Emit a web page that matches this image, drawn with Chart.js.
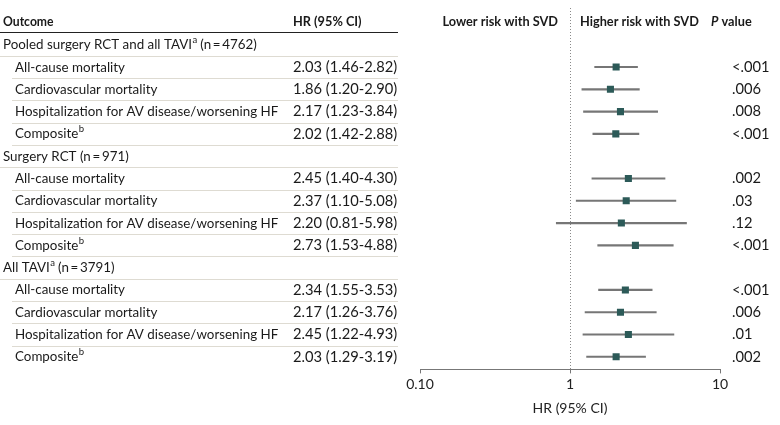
<!DOCTYPE html>
<html lang="en">
<head>
    <meta charset="UTF-8">
    <title>SVD hazard ratios</title>
    <script src="https://cdn.jsdelivr.net/npm/chart.js"></script>
    <style>
        body {
            margin: 0;
            background: #ffffff;
        }
        .wrap {
            width: 780px;
            height: 425px;
        }
    </style>
</head>
<body>
    <div class="wrap">
        <canvas id="forest" width="780" height="425"></canvas>
    </div>

    <script>
        // rows top to bottom; {a}/{b} mark superscripts
        const outcomes = [
            'Pooled surgery RCT and all TAVI{a} (n\u2009=\u20094762)',
            'All-cause mortality',
            'Cardiovascular mortality',
            'Hospitalization for AV disease/worsening HF',
            'Composite{b}',
            'Surgery RCT (n\u2009=\u2009971)',
            'All-cause mortality',
            'Cardiovascular mortality',
            'Hospitalization for AV disease/worsening HF',
            'Composite{b}',
            'All TAVI{a} (n\u2009=\u20093791)',
            'All-cause mortality',
            'Cardiovascular mortality',
            'Hospitalization for AV disease/worsening HF',
            'Composite{b}'
        ];
        const hr    = [null, 2.03, 1.86, 2.17, 2.02, null, 2.45, 2.37, 2.20, 2.73, null, 2.34, 2.17, 2.45, 2.03];
        const ciLow = [null, 1.46, 1.20, 1.23, 1.42, null, 1.40, 1.10, 0.81, 1.53, null, 1.55, 1.26, 1.22, 1.29];
        const ciHigh = [null, 2.82, 2.90, 3.84, 2.88, null, 4.30, 5.08, 5.98, 4.88, null, 3.53, 3.76, 4.93, 3.19];
        const pValues = ['', '<.001', '.006', '.008', '<.001', '', '.002', '.03', '.12', '<.001', '', '<.001', '.006', '.01', '.002'];

        const tickValues = [0.1, 1, 10];
        const tickLabels = ['0.10', '1', '10'];

        const FONT = 'Lato';
        const TEXT = '#1a1a1a';

        // fillText squeezed horizontally (source font is a condensed face)
        function squeezeText(ctx, text, x, y, squeeze) {
            ctx.save();
            ctx.translate(x, y);
            ctx.scale(squeeze, 1);
            ctx.fillText(text, 0, 0);
            ctx.restore();
        }

        function drawRich(ctx, text, x, y, size, squeeze) {
            const parts = text.split(/\{(\w)\}/);
            ctx.save();
            ctx.translate(x, y);
            ctx.scale(squeeze, 1);
            let cx = 0;
            parts.forEach((p, i) => {
                if (!p) return;
                if (i % 2 === 1) {
                    ctx.font = `${Math.round(size * 0.7)}px ${FONT}`;
                    ctx.fillText(p, cx + 0.5, -size * 0.36);
                } else {
                    ctx.font = `${size}px ${FONT}`;
                    ctx.fillText(p, cx, 0);
                }
                cx += ctx.measureText(p).width;
            });
            ctx.restore();
        }

        const tablePlugin = {
            id: 'table',
            beforeDatasetsDraw(chart) {
                const { ctx, scales: { x }, chartArea } = chart;
                const x1 = x.getPixelForValue(1);
                ctx.save();
                ctx.strokeStyle = '#8a8a8a';
                ctx.lineWidth = 1;
                ctx.setLineDash([1, 2]);
                ctx.beginPath();
                ctx.moveTo(Math.round(x1) + 0.5, 8);
                ctx.lineTo(Math.round(x1) + 0.5, chartArea.bottom);
                ctx.stroke();
                ctx.restore();
            },
            afterDraw(chart) {
                const { ctx, scales: { x, y } } = chart;
                const x1 = x.getPixelForValue(1);
                const hs = 0.91;
                ctx.save();
                ctx.textBaseline = 'middle';
                ctx.fillStyle = TEXT;

                // header
                const hy = 21;
                ctx.font = `bold 14px ${FONT}`;
                ctx.textAlign = 'left';
                squeezeText(ctx, 'Outcome', 3, hy, 0.87);
                squeezeText(ctx, 'HR (95% CI)', 293, hy, hs);
                ctx.textAlign = 'right';
                squeezeText(ctx, 'Lower risk with SVD', x1 - 12, hy, hs);
                ctx.textAlign = 'left';
                squeezeText(ctx, 'Higher risk with SVD', x1 + 10, hy, hs);
                ctx.font = `italic bold 14px ${FONT}`;
                squeezeText(ctx, 'P', 711, hy, hs);
                const pw = ctx.measureText('P').width * hs;
                ctx.font = `bold 14px ${FONT}`;
                squeezeText(ctx, ' value', 711 + pw, hy, hs);

                ctx.strokeStyle = '#222';
                ctx.lineWidth = 1;
                ctx.beginPath();
                ctx.moveTo(0, 32.5);
                ctx.lineTo(398, 32.5);
                ctx.stroke();

                // rows
                const step = y.getPixelForValue(1) - y.getPixelForValue(0);
                outcomes.forEach((label, i) => {
                    const ry = y.getPixelForValue(i);
                    const group = hr[i] === null;
                    ctx.fillStyle = TEXT;
                    ctx.textAlign = 'left';
                    drawRich(ctx, label, group ? 3 : 15, ry, 14, 0.955);
                    if (!group) {
                        ctx.font = `14.7px ${FONT}`;
                        ctx.fillText(`${hr[i].toFixed(2)} (${ciLow[i].toFixed(2)}-${ciHigh[i].toFixed(2)})`, 293, ry);
                        ctx.fillText(pValues[i], 732, ry);
                    }
                    if (i < outcomes.length - 1) {
                        const ly = Math.round(ry + step / 2) + 0.5;
                        ctx.strokeStyle = '#dedbd2';
                        ctx.lineWidth = 1;
                        ctx.beginPath();
                        ctx.moveTo(group ? 0 : 12, ly);
                        ctx.lineTo(398, ly);
                        ctx.stroke();
                    }
                });
                ctx.restore();
            }
        };

        const rowIdx = outcomes.map((_, i) => i).filter(i => hr[i] !== null);

        new Chart(document.getElementById('forest').getContext('2d'), {
            type: 'bar',
            data: {
                datasets: [
                    {
                        type: 'scatter',
                        label: 'HR',
                        data: rowIdx.map(i => ({ x: hr[i], y: i })),
                        pointStyle: 'rect',
                        pointRadius: 5,
                        backgroundColor: '#2c5a58',
                        borderWidth: 0,
                        order: 0
                    },
                    {
                        type: 'bar',
                        label: '95% CI',
                        indexAxis: 'y',
                        data: rowIdx.map(i => ({ y: i, x: [ciLow[i], ciHigh[i]] })),
                        barThickness: 1.5,
                        backgroundColor: '#767676',
                        order: 1
                    }
                ]
            },
            options: {
                responsive: false,
                animation: false,
                events: [],
                layout: { padding: { left: 420, right: 60, top: 10, bottom: 4 } },
                plugins: {
                    legend: { display: false },
                    tooltip: { enabled: false }
                },
                scales: {
                    x: {
                        type: 'logarithmic',
                        min: 0.1,
                        max: 10,
                        offset: false,
                        afterBuildTicks: (scale) => {
                            scale.ticks = tickValues.map(v => ({ value: v }));
                        },
                        ticks: {
                            callback: (value) => tickLabels[tickValues.indexOf(value)],
                            color: '#222',
                            font: { family: FONT, size: 14 },
                            padding: 3,
                            maxRotation: 0,
                            autoSkip: false
                        },
                        grid: {
                            offset: false,
                            drawOnChartArea: false,
                            drawTicks: true,
                            tickLength: 4,
                            color: '#777'
                        },
                        border: { display: true, color: '#777', width: 1 },
                        title: {
                            display: true,
                            text: 'HR (95% CI)',
                            color: '#222',
                            font: { family: FONT, size: 14 },
                            padding: { top: 4, bottom: 4 }
                        }
                    },
                    y: {
                        type: 'linear',
                        display: false,
                        reverse: true,
                        offset: false,
                        min: -1.559,
                        max: 14.566
                    }
                }
            },
            plugins: [tablePlugin]
        });
    </script>
</body>
</html>
